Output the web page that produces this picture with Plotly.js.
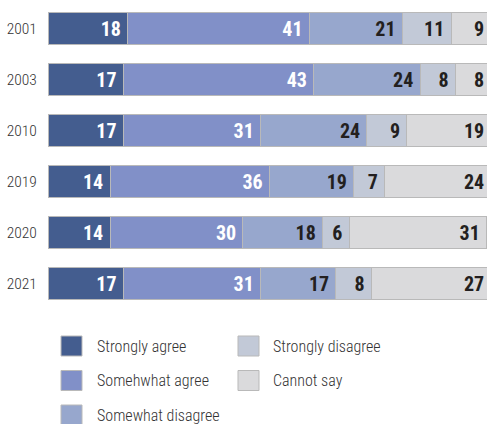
<!DOCTYPE html>
<html>
<head>
<meta charset="utf-8">
<script src="https://cdn.plot.ly/plotly-3.0.1.min.js"></script>
<style>
html,body{margin:0;padding:0;background:#fff;overflow:hidden;width:487px;height:424px;}
#chart{width:491px;height:424px;}
</style>
</head>
<body>
<div id="chart"></div>
<script>
var years = ["2001", "2003", "2010", "2019", "2020", "2021"];
var seriesNames = ["Strongly agree", "Somehwhat agree", "Somewhat disagree", "Strongly disagree", "Cannot say"];
var stronglyAgree    = [18, 17, 17, 14, 14, 17];
var somewhatAgree    = [41, 43, 31, 36, 30, 31];
var somewhatDisagree = [21, 24, 24, 19, 18, 17];
var stronglyDisagree = [11, 8, 9, 7, 6, 8];
var cannotSay        = [9, 8, 19, 24, 31, 27];
var colors = ["#445d8f", "#8190c8", "#97a7cd", "#c2c9d7", "#dadadc"];
var textColors = ["#ffffff", "#ffffff", "#231f20", "#231f20", "#231f20"];

var values = [stronglyAgree, somewhatAgree, somewhatDisagree, stronglyDisagree, cannotSay];
var FONT = "'Roboto Condensed', 'Open Sans Condensed', 'DejaVu Sans Condensed', sans-serif";

var traces = values.map(function (v, i) {
  return {
    type: "bar",
    orientation: "h",
    name: seriesNames[i],
    x: v,
    y: years,
    text: v.map(function (d) { return d + "\u2009"; }),
    textposition: "inside",
    insidetextanchor: "end",
    textangle: 0,
    constraintext: "none",
    textfont: {family: FONT, size: 20, color: textColors[i], weight: 700},
    marker: {color: colors[i], line: {color: "#b9b9b9", width: 1}},
    hoverinfo: "none",
    showlegend: false
  };
});

// layout geometry (the chart is slightly wider than the window; its right edge is cropped like the reference)
var W = 491, H = 424, L = 48, R = 0, T = 3, B = 115;
var plotH = H - T - B, plotW = W - L - R;
function px2x(px) { return (px - L) / plotW; }
function py2y(py) { return (H - B - py) / plotH; }

var shapes = [], annotations = [];
var legendPos = [
  {mx: 61, tx: 95, y: 336},
  {mx: 61, tx: 95, y: 370.5},
  {mx: 61, tx: 95, y: 405},
  {mx: 238, tx: 271, y: 336},
  {mx: 238, tx: 271, y: 370.5}
];
seriesNames.forEach(function (n, i) {
  var p = legendPos[i];
  shapes.push({
    type: "rect", xref: "paper", yref: "paper",
    x0: px2x(p.mx), x1: px2x(p.mx + 21),
    y0: py2y(p.y), y1: py2y(p.y + 20),
    fillcolor: colors[i], line: {color: "#b9b9b9", width: 1}
  });
  annotations.push({
    xref: "paper", yref: "paper", x: px2x(p.tx), y: py2y(p.y + 10),
    xanchor: "left", yanchor: "middle", showarrow: false,
    text: n, font: {family: FONT, size: 16, color: "#333333", weight: 300}
  });
});

var layout = {
  width: W, height: H,
  margin: {l: L, r: R, t: T, b: B, pad: 0},
  barmode: "stack",
  bargap: 0.37,
  paper_bgcolor: "#ffffff",
  plot_bgcolor: "#ffffff",
  xaxis: {range: [0, 100], showgrid: false, zeroline: false, showticklabels: false, showline: false, fixedrange: true},
  yaxis: {type: "category", autorange: "reversed", showgrid: false, zeroline: false, showline: false,
          ticks: "outside", ticklen: 7, tickcolor: "rgba(0,0,0,0)",
          tickfont: {family: FONT, size: 15.5, color: "#333333", weight: 300}},
  shapes: shapes,
  annotations: annotations,
  showlegend: false
};

Plotly.newPlot("chart", traces, layout, {displayModeBar: false, staticPlot: true});
</script>
</body>
</html>
